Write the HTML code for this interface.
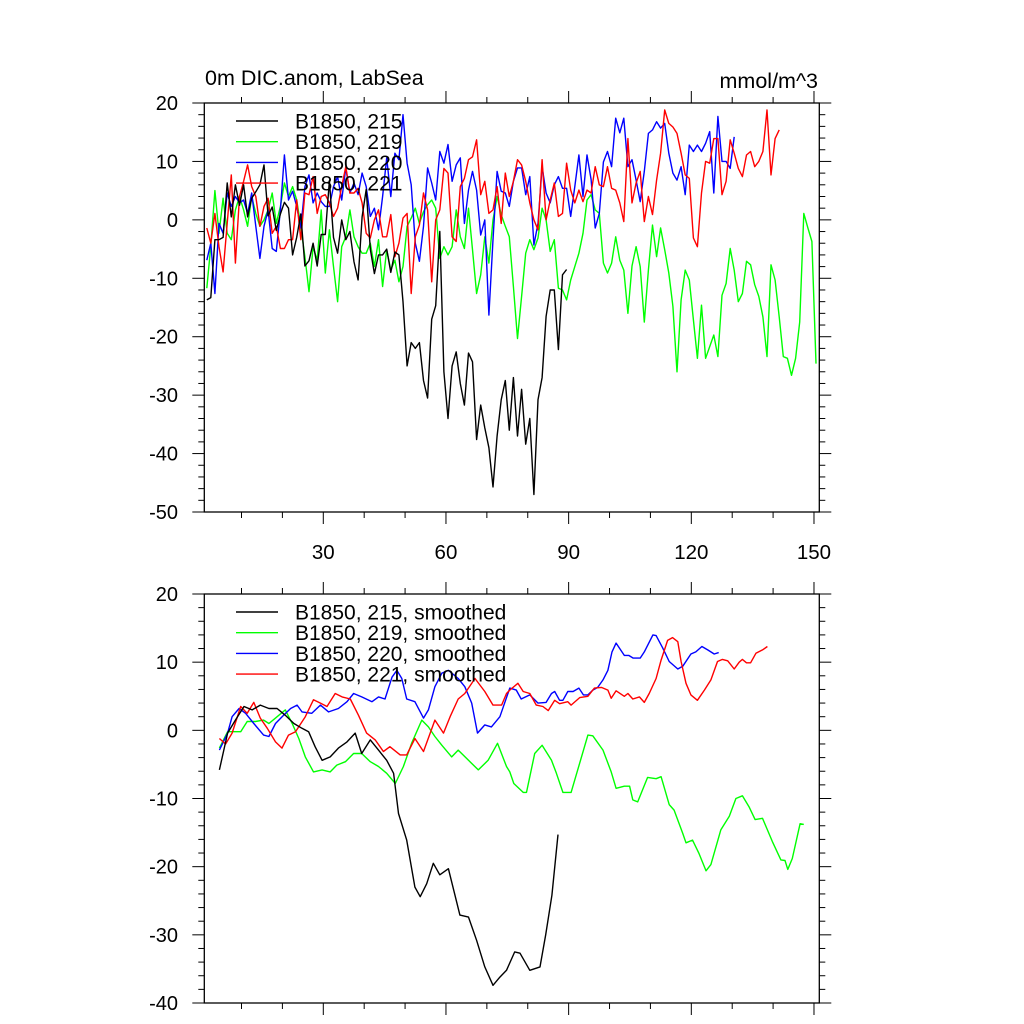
<!DOCTYPE html>
<html><head><meta charset="utf-8"><style>
html,body{margin:0;padding:0;background:#fff;}
svg{display:block;font-family:"Liberation Sans",Arial,sans-serif;}
</style></head><body>
<svg id="chart" width="1024" height="1024" viewBox="0 0 1024 1024" xmlns="http://www.w3.org/2000/svg">
<text x="205" y="85" font-size="21.5">0m DIC.anom, LabSea</text>
<text x="818" y="88" font-size="21.5" text-anchor="end">mmol/m^3</text>
<g id="top"></g>
<g id="bot"></g>
</svg>
<script>
// ---- data: top panel (raw annual), start year and values ----
const topStart = 1.5;
const raw215 = [-13.7,-13.3,-3.4,-3.4,-3,6.3,0.5,6,2.5,6,0.5,3.7,4.8,6,9.4,0.7,2.2,-1.8,1,3,2,-6,-3,1,-7.9,-7,-4,-7.9,-2.5,-2.5,6.7,-3,-5.7,0,-3.4,-2,-7.2,-10.3,0.5,5.2,-5,-9.2,-6,-6,-5,-9,-5.5,-6,-14,
-25,-21,-22,-21,-27.5,-30.5,-17,-14.7,-2,-26,-34,-25,-22.6,-28,-31.7,-22.8,-24.3,-37.6,-31.7,-35.6,-39,-45.7,-37,-30.8,-27.5,-36,-27,-37,-29,-38.4,-34,-47,-30.8,-27,-16.5,-12,-12,-22.2,-9.4,-8.5];
const raw219 = [-11.7,-4.5,5,-2.3,3.7,-2.3,-3.4,1.7,4,1.7,-1.1,4,1.1,-1.1,0,1.7,4.6,-0.6,2.3,6.3,4,5.7,3.4,-1.1,-6.3,-12.3,-4.6,-6.9,1.7,-9.1,-1.7,-8,-14,-4.6,-2.9,1.7,-2.9,-4.6,-5.7,-5.7,-4,-8,
-3.4,-11.4,-5.1,-8.6,-6.9,-10.6,-8,-1.1,0.3,2,-0.6,1.4,2.6,3.4,2,-6.6,-4.6,-6,-4.6,1.7,-2.9,-4.9,2,-5.1,-12.6,-9.4,-2.9,-7.4,0,4,0.9,-1.1,-2.9,-11.4,-20.3,-13.1,-5.7,-3.4,-5.1,-3.1,2,0,-5.4,-3.4,-11.7,-12,-13.7,-10.3,-8,-5.7,-2.3,3.4,4.3,1.7,1.1,-7.4,-9.1,-7.4,-2.9,-6.9,-8.6,-16,
-7.9,-4.6,-8,-17.5,-8.6,-0.9,-6.3,-1.4,-5.1,-9.1,-14.8,-26,-13.7,-8.6,-10.3,-17.1,-23.7,-14.6,-23.7,-21.7,-19.7,-23.4,-12.9,-10.9,-4.9,-8.6,-14,-12.6,-7.1,-7.7,-11.1,-13.1,-16.6,-23.4,-7.7,-10.3,-16.6,-23.4,-23.7,-26.6,-23.7,-17.5,1.1,-1.4,-3.7,-24.6];
const raw220 = [-6.9,-4,-12.6,-0.6,-2.3,4.6,2.3,4,2.9,3.4,1.1,4.6,-1.1,-6.6,-1.1,1.7,-4.9,-5.4,1.7,11.1,3.4,4.9,2.3,-1.4,5.7,7.7,2.9,4.6,3.1,2.3,2.3,5.7,7.4,3.4,8.9,4.6,6.3,4.3,8,5.7,0.6,2,
-1.7,4,10.6,4,11.4,10.3,18,9.7,6,-4,-7.1,-1.1,8.9,6.3,3.4,11.7,9.7,12.9,6.6,9.4,10.6,-0.6,5.1,8.3,5.1,-2.6,0,-16.3,-3.4,8.3,4.9,4.6,2.3,6.6,8.9,8.9,4.3,7.4,-4.3,-0.6,9.1,4.6,2.9,6,7.4,5.4,5.4,0.6,5.7,11.1,4,11.1,6.9,-1.4,1.1,9.9,11.7,9.1,17.4,14.9,17.4,9.1,
10.3,6.8,3.1,8.3,14.8,15.4,16.8,15.7,16.5,11.4,8,6.8,9.1,4.3,12.8,11.7,12.8,11.7,13.1,15.1,4.6,17.7,10,10,8.8,14.2];
const raw221 = [-1.4,-4,1.1,-4.6,-8.9,-0.6,7.7,-7.4,4,6.6,9.4,5.7,4,-1.1,2.3,3.7,-2.3,-1.1,-4.9,-4.9,-3.4,-3.4,3.4,-3.4,4.6,4.3,7.4,1.1,4,4.3,2.9,0.6,2,5.7,9.1,4.6,4.6,5.4,2.9,-2.3,-3.1,0,
1.7,-2.9,-2.9,0.9,-6.3,-4,0.3,1.1,-12.6,-2.9,-0.9,4.6,1.7,-10.6,0,1.7,8.8,8,-2.9,-3.7,5.7,7.1,10.3,10.8,13.7,4.3,6.6,1.1,1.7,5.7,-0.6,8,4,6.6,10.3,9.4,6.6,2.9,0,-1.7,10.3,0,3.4,6.3,0.6,1.1,9.7,5.1,2.9,5.1,3.1,5.1,4.6,9.1,6,5.7,9.1,5.4,5.1,2.9,-0.3,13.9,
2.9,6.3,8.3,-0.3,4,0.9,6.8,11.4,18.8,16.5,15.9,14.8,11.4,7.7,7.1,-3.1,-4.6,4.6,10,9.7,13.9,13.9,4.3,6.6,13.7,11.4,8.8,7.4,11.1,11.7,9.1,10,11.7,18.8,7.7,13.9,15.4];

// ---- data: bottom panel (smoothed), year and value arrays ----
const s215x = [4.6,6.6,8.5,10.6,12.6,14.6,16.7,18.7,20.7,22.8,24.8,26.4,28.0,29.7,31.7,33.7,35.8,37.8,39.4,41.5,43.5,45.5,47.2,48.4,50.4,52.4,53.7,55.3,56.9,58.5,60.6,63.4,65.5,67.5,69.5,71.5,73.2,74.8,76.8,78.1,80.5,83,84.4,85.9,87.4];
const s215y = [-5.8,-0.4,1.5,3.5,3,3.7,3.2,3.2,2.2,1,0.3,-0.2,-2.4,-4.4,-3.9,-2.6,-1.7,-0.4,-3.4,-1.4,-2.9,-4.4,-6.3,-12.2,-16.1,-23,-24.4,-22.5,-19.5,-21.2,-20.3,-27.1,-27.4,-30.8,-34.7,-37.4,-36.2,-35.2,-32.5,-32.7,-35.2,-34.7,-30,-24.2,-15.3];
const s219x = [4.6,6.6,8.5,9.8,11.4,13.4,15.4,16.7,18.3,20.7,22.4,24,25.6,27.6,29.7,31.7,33.3,35.4,37.4,39.4,41.5,43.5,45.5,47.6,49.6,51.6,54.1,55.7,57.3,59,61.4,63,65.5,67.9,70.3,72.6,74.8,75.6,76.6,78.9,79.7,81.7,83.5,85.8,87,88.6,90.6,92.7,94.7,95.9,98.4,100.4,101.6,103.6,104.9,105.7,106.9,109.3,111.4,112.6,114.6,115.8,117.9,118.7,120.3,121.9,123.6,124.8,127.2,129.3,130.9,132.5,134.1,135.6,137.4,139.8,141.9,142.9,143.6,144.7,146.6,147.5];
const s219y = [-2.6,-0.2,-0.2,-0.2,1.3,1.3,1.5,1,1.8,3,1,-1.2,-3.9,-6.1,-5.8,-6.1,-5.1,-4.6,-3.4,-3.4,-4.6,-5.3,-6.3,-7.8,-5.3,-1.9,1.5,0.5,-0.9,-2.2,-3.9,-2.9,-4.4,-5.8,-4.4,-1.9,-5.3,-6.1,-7.8,-9.1,-9.1,-3.4,-2.2,-4.4,-6.3,-9.1,-9.1,-4.8,-0.7,-0.8,-2.9,-6.1,-8.5,-8.2,-8.2,-10.2,-10.5,-6.9,-7.1,-6.8,-10.9,-11.7,-15.1,-16.5,-16.1,-18.1,-20.6,-19.7,-14.6,-12.6,-10,-9.6,-11.2,-13.1,-12.9,-16.3,-19,-19.1,-20.4,-18.8,-13.7,-13.8];
const s220x = [4.6,6.6,7.7,9.4,11,13,15.4,16.7,18.3,20.3,22,23.6,24.8,27.2,29.3,31.3,33.7,35.8,37.4,39.4,41.9,43.5,45.1,46.8,48,49.2,50.4,52.4,54.5,55.7,57.3,59,60.6,63,64.6,66.3,67.7,69.5,71.1,73.2,75.6,77.2,78.4,80.5,82.5,84.5,85.8,86.6,87.8,88.6,89.8,91.1,92.5,93.6,94.7,95.9,97.1,98.4,99.6,100.6,101.6,103.6,104.7,105.8,107.5,108.5,110.6,111.4,113,114.6,116.7,117.9,119.9,121.1,122.6,124,125.6,126.7];
const s220y = [-2.9,-0.4,2,3.2,2.5,1,-0.7,-0.9,1,2.2,3.2,3.7,2.7,2.5,3.7,2.7,3.2,4.2,5.4,4.9,4.2,4.9,4.6,7.8,8.8,7.6,4.6,4.2,1.8,3,6.4,8.4,8.8,7.6,6.4,4,-0.4,0.8,0.5,2,6.2,5.9,4.6,5.2,4,4.1,5.4,5.7,4.4,4.4,5.7,5.7,6.2,5.2,5.2,5.9,6.3,7.4,8.8,11.5,12.8,11,11,10.6,10.6,11.5,14,13.9,12.1,10.1,9,9.4,11.2,11.5,12.3,11.8,11.2,11.4];
const s221x = [4.6,6.1,7.7,9.8,11.4,13,14.6,16.3,18.3,19.9,21.5,23.2,25.6,27.6,29.3,30.9,32.9,34.6,36.6,38.6,40.6,42.7,44.7,46.3,48.8,50.4,52.4,54.5,57.3,59.4,61,63,64.6,67.1,69.5,71.5,73.6,74.8,75.6,77.6,78.9,80.5,82.1,83.7,85,86.6,87.8,89.8,90.6,92.7,94.7,96.3,98,99.6,100.4,101.6,103.6,104.5,105.7,107.3,108.5,109.7,111.4,112.6,114.2,115.4,116.7,117.5,118.7,119.9,121.5,123.2,124.8,126.4,127.6,128.9,130.5,131.7,132.5,133.5,134.5,135.8,137.4,138.6];
const s221y = [-1.2,-2,-0.4,3.5,2.5,4.1,1.8,0.3,-1.7,-2.6,-0.7,-0.2,2,4.5,4,3.5,5.4,4.9,4.6,2.2,-0.4,-1.4,-3.1,-2.4,-3.6,-3.6,-1.2,-3.1,1.5,-0.4,2,4.6,5.4,7.6,5.7,3.7,3.7,5.4,5.9,6.9,5.7,5.4,3.7,3.5,2.9,4.4,3.9,4.2,3.7,4.8,5,6.2,6.3,5.9,4.7,5.8,5,5.4,4.6,4.9,4.1,5.4,7.6,10.3,13.2,13.6,13,10.1,6.9,5.2,4.4,5.9,7.4,10.1,10.4,10.2,9,10,10.4,9.9,9.9,11.3,11.8,12.3];

const topYTicks = [20,10,0,-10,-20,-30,-40,-50];
const botYTicks = [20,10,0,-10,-20,-30,-40];
const xTicks = [30,60,90,120,150];

const NS = 'http://www.w3.org/2000/svg';
const L = 204.3, R = 819.3;
const X0 = 0.9, X1 = 151.3;
function xs(v){ return L + (v - X0) * (R - L) / (X1 - X0); }
function mk(tag, attrs, parent){ const e = document.createElementNS(NS, tag); for (const k in attrs) e.setAttribute(k, attrs[k]); parent.appendChild(e); return e; }

function panel(g, top, bottom, ymin, ymax, yTicks, showX){
  const ys = v => bottom - (v - ymin) * (bottom - top) / (ymax - ymin);
  const frame = mk('rect', {x:L, y:top, width:R-L, height:bottom-top, fill:'none', stroke:'#000', 'stroke-width':1.3}, g);
  
  
  for (let v = ymin; v <= ymax; v += 2){
    const major = (v % 10 === 0);
    const len = major ? 12 : 6;
    const py = ys(v);
    const t1 = mk('line', {x1:L-len, y1:py, x2:L, y2:py, stroke:'#000', 'stroke-width':1}, g);
    
    
    const t2 = mk('line', {x1:R, y1:py, x2:R+len, y2:py, stroke:'#000', 'stroke-width':1}, g);
    
    
  }
  yTicks.forEach(v => {
    const t = mk('text', {x:178, y:ys(v)+7, 'font-size':20, 'text-anchor':'end'}, g);
    t.textContent = String(v);
    
    
  });
  for (let v = 10; v <= 150; v += 10){
    const major = (v % 30 === 0);
    const len = major ? 12 : 6;
    const px = xs(v);
    const b = mk('line', {x1:px, y1:bottom, x2:px, y2:bottom+len, stroke:'#000', 'stroke-width':1}, g);
    
    
    const tt = mk('line', {x1:px, y1:top-len, x2:px, y2:top, stroke:'#000', 'stroke-width':1}, g);
    
    
  }
  if (showX) xTicks.forEach(v => {
    const t = mk('text', {x:xs(v), y:bottom+47, 'font-size':20.5, 'text-anchor':'middle'}, g);
    t.textContent = String(v);
    
    
  });
  return ys;
}

function lineXY(g, xarr, yarr, ys, color, name){
  const pts = xarr.map((x,i) => xs(x).toFixed(1) + ',' + ys(yarr[i]).toFixed(1)).join(' ');
  const p = mk('polyline', {points:pts, fill:'none', stroke:color, 'stroke-width':1.4, 'stroke-linejoin':'round'}, g);
  
  
}
function lineSeq(g, start, vals, ys, color, name){
  lineXY(g, vals.map((_,i) => start + i), vals, ys, color, name);
}
function legend(g, y0, labels, colors){
  labels.forEach((lab, i) => {
    const y = y0 + i * 20.7;
    const ln = mk('line', {x1:236, y1:y, x2:278, y2:y, stroke:colors[i], 'stroke-width':1.4}, g);
    
    
    const t = mk('text', {x:295, y:y+7.5, 'font-size':21}, g);
    t.textContent = lab;
    
    
  });
}

const colors = ['#000000','#00ff00','#0000ff','#ff0000'];
const gt = document.getElementById('top');
const ysT = panel(gt, 103, 512, -50, 20, topYTicks, true);
lineSeq(gt, topStart, raw219, ysT, colors[1], 'series-219');
lineSeq(gt, topStart, raw220, ysT, colors[2], 'series-220');
lineSeq(gt, topStart, raw221, ysT, colors[3], 'series-221');
lineSeq(gt, topStart, raw215, ysT, colors[0], 'series-215');
legend(gt, 121, ['B1850, 215','B1850, 219','B1850, 220','B1850, 221'], colors);

const gb = document.getElementById('bot');
const ysB = panel(gb, 594, 1003, -40, 20, botYTicks, false);
lineXY(gb, s219x, s219y, ysB, colors[1], 'smoothed-219');
lineXY(gb, s220x, s220y, ysB, colors[2], 'smoothed-220');
lineXY(gb, s221x, s221y, ysB, colors[3], 'smoothed-221');
lineXY(gb, s215x, s215y, ysB, colors[0], 'smoothed-215');
legend(gb, 612, ['B1850, 215, smoothed','B1850, 219, smoothed','B1850, 220, smoothed','B1850, 221, smoothed'], colors);
</script>
</body></html>
